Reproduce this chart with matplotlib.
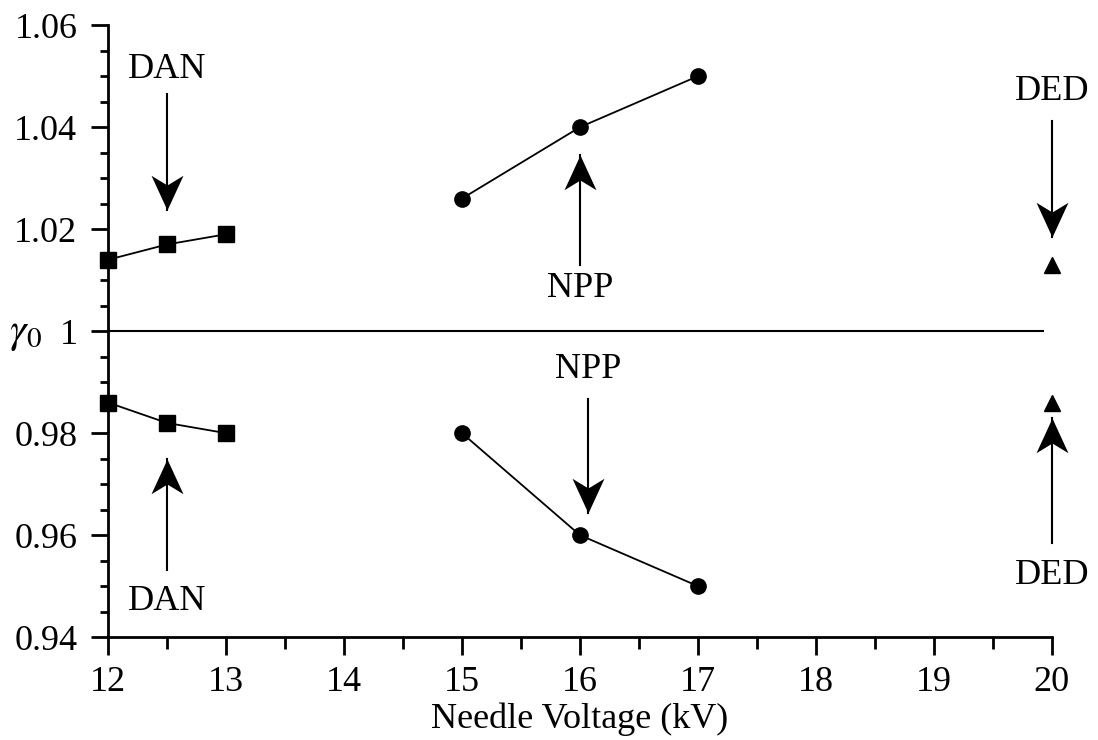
import matplotlib
matplotlib.use("Agg")
import matplotlib.pyplot as plt
from matplotlib.path import Path
from matplotlib.ticker import MultipleLocator, FixedLocator

plt.rcParams['font.family'] = ['Liberation Serif', 'DejaVu Serif']
plt.rcParams['mathtext.fontset'] = 'stix'

# data
dan_x = [12, 12.5, 13]
dan_upper = [1.014, 1.017, 1.019]
dan_lower = [0.986, 0.982, 0.980]
npp_x = [15, 16, 17]
npp_upper = [1.026, 1.040, 1.050]
npp_lower = [0.980, 0.960, 0.950]
ded_x = [20]
ded_upper = [1.013]
ded_lower = [0.986]

y_ticks = [0.94, 0.96, 0.98, 1.00, 1.02, 1.04, 1.06]
y_tick_labels = ["0.94", "0.96", "0.98", "1", "1.02", "1.04", "1.06"]
x_ticks = [12, 13, 14, 15, 16, 17, 18, 19, 20]

# annotations: label, x, text y, arrow tail y, arrow tip y
notes = [
    ("DAN", 12.5, 1.0513, 1.0465, 1.0238),
    ("DAN", 12.5, 0.9470, 0.9531, 0.9749),
    ("NPP", 16.0, 1.0083, 1.0129, 1.0345),
    ("NPP", 16.07, 0.9925, 0.9867, 0.9644),
    ("DED", 20.0, 1.0470, 1.0412, 1.0184),
    ("DED", 20.0, 0.9520, 0.9585, 0.9830),
]

# stealth-like arrow head, tip at the origin
head_down = Path([(0, 0), (0.46, 1), (0, 0.72), (-0.46, 1), (0, 0)],
                 [Path.MOVETO, Path.LINETO, Path.LINETO, Path.LINETO, Path.CLOSEPOLY])
head_up = Path([(0, 0), (0.46, -1), (0, -0.72), (-0.46, -1), (0, 0)],
               [Path.MOVETO, Path.LINETO, Path.LINETO, Path.LINETO, Path.CLOSEPOLY])

fig = plt.figure(figsize=(10.98, 7.40), dpi=100)
ax = fig.add_axes([0.0984, 0.139, 0.8596, 0.827])

ax.plot(dan_x, dan_upper, color='k', lw=1.3, marker='s', ms=12, clip_on=False)
ax.plot(dan_x, dan_lower, color='k', lw=1.3, marker='s', ms=12, clip_on=False)
ax.plot(npp_x, npp_upper, color='k', lw=1.3, marker='o', ms=11, clip_on=False)
ax.plot(npp_x, npp_lower, color='k', lw=1.3, marker='o', ms=11, clip_on=False)
ax.plot(ded_x, ded_upper, color='k', ls='none', marker='^', ms=11, clip_on=False)
ax.plot(ded_x, ded_lower, color='k', ls='none', marker='^', ms=11, clip_on=False)

ax.hlines(1.0, 12, 19.93, color='k', lw=1.5)

for label, x, ty, y0, y1 in notes:
    ax.text(x, ty, label, ha='center', va='center', fontsize=26)
    ax.plot([x, x], [y0, y1], color='k', lw=1.5, clip_on=False)
    head = head_down if y1 < y0 else head_up
    ax.plot([x], [y1], ls='none', marker=head, ms=50, color='k', mew=0,
            clip_on=False)

ax.set_xlim(12, 20)
ax.set_ylim(0.94, 1.06)
ax.spines['top'].set_visible(False)
ax.spines['right'].set_visible(False)
ax.spines['left'].set_linewidth(2)
ax.spines['bottom'].set_linewidth(2)

ax.xaxis.set_major_locator(FixedLocator(x_ticks))
ax.xaxis.set_minor_locator(MultipleLocator(0.5))
ax.set_yticks(y_ticks)
ax.set_yticklabels(y_tick_labels)
ax.yaxis.set_minor_locator(MultipleLocator(0.005))
ax.tick_params(which='major', direction='out', width=2, labelsize=26)
ax.tick_params(axis='y', which='major', length=12, pad=10)
ax.tick_params(axis='x', which='major', length=13, pad=8)
ax.tick_params(axis='y', which='minor', direction='out', length=6, width=2)
ax.tick_params(axis='x', which='minor', direction='out', length=8.5, width=2)

ax.set_xlabel("Needle Voltage (kV)", fontsize=26, labelpad=2)
fig.text(0.023, 0.549, r"$\gamma_{\mathit{0}}$", fontsize=30, ha='center', va='center')

fig.savefig("out.png", dpi=100)
